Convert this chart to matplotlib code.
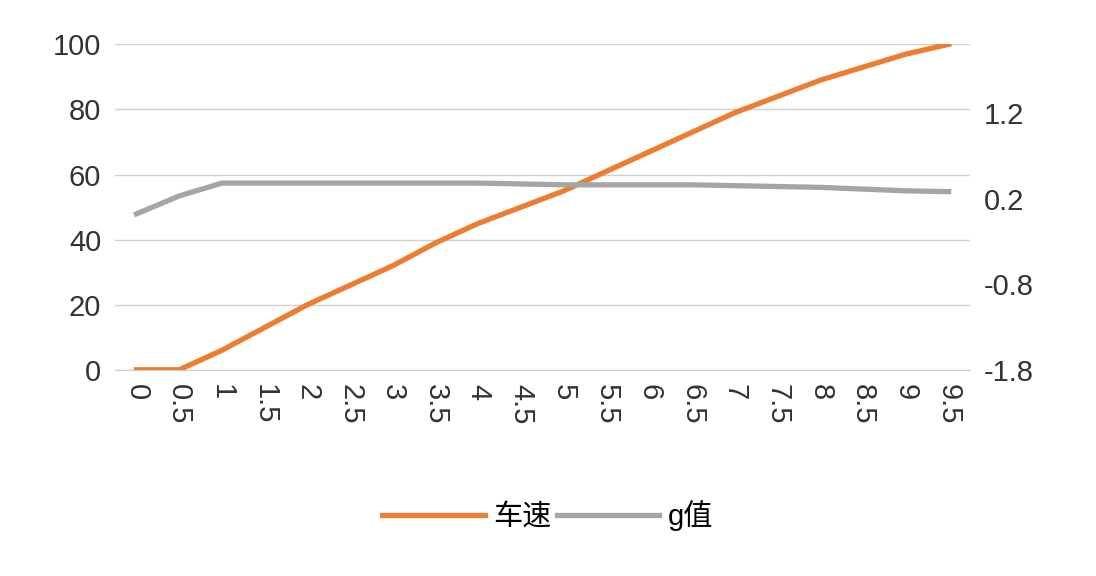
import numpy as np
import matplotlib.pyplot as plt

plt.rcParams['font.family'] = ['Liberation Sans', 'Noto Sans CJK SC']
plt.rcParams['axes.unicode_minus'] = False

#--------- data ---------
time_labels = ['0', '0.5', '1', '1.5', '2', '2.5', '3', '3.5', '4', '4.5',
               '5', '5.5', '6', '6.5', '7', '7.5', '8', '8.5', '9', '9.5']
speed = [0, 0, 6, 13, 20, 26, 32, 39, 45, 50,
         55, 61, 67, 73, 79, 84, 89, 93, 97, 100]
g_value = [0.02, 0.23, 0.38, 0.38, 0.38, 0.38, 0.38, 0.38, 0.38, 0.37,
           0.36, 0.36, 0.36, 0.36, 0.35, 0.34, 0.33, 0.31, 0.29, 0.28]

x = np.arange(len(time_labels))

fig = plt.figure(figsize=(10.96, 5.76), dpi=100)
ax1 = fig.add_axes([0.105, 0.358, 0.78, 0.565])
ax2 = ax1.twinx()

l1, = ax1.plot(x, speed, color='#ED7D31', lw=3.8, label='车速')
l2, = ax2.plot(x, g_value, color='#A5A5A5', lw=3.8, label='g值')

ax1.set_xlim(-0.5, len(x) - 0.5)
ax1.set_ylim(0, 100)
ax1.set_yticks([0, 20, 40, 60, 80, 100])
ax2.set_ylim(-1.8, 2.0)
ax2.set_yticks([-1.8, -0.8, 0.2, 1.2])
ax1.set_xticks(x)
ax1.set_xticklabels(time_labels, rotation=270)
ax1.grid(axis='y', color='#D0D0D0', lw=1)
ax1.set_axisbelow(True)

for a in (ax1, ax2):
    for s in a.spines.values():
        s.set_visible(False)
    a.tick_params(length=0, labelsize=21, colors='#333333', pad=10)
ax1.spines['bottom'].set_visible(True)
ax1.spines['bottom'].set_color('#D0D0D0')

fig.legend(handles=[l1, l2], loc='center', bbox_to_anchor=(0.5, 0.105), ncol=2,
           frameon=False, fontsize=21, handlelength=3.5, columnspacing=0.2,
           handletextpad=0.3)

fig.savefig('out.png', dpi=100)
